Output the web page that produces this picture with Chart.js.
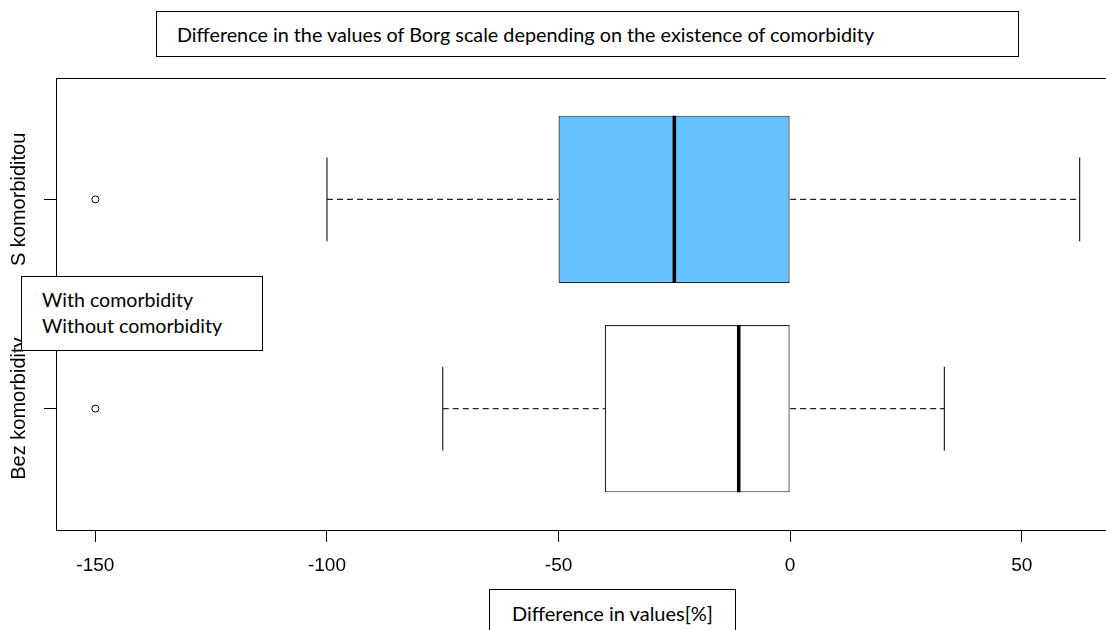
<!DOCTYPE html>
<html>
<head>
<meta charset="utf-8">
<script src="https://cdn.jsdelivr.net/npm/chart.js@4.4.1/dist/chart.umd.min.js"></script>
<style>
html,body{margin:0;padding:0;background:#fff;overflow:hidden;width:1106px;height:630px;}
#wrap{position:absolute;left:0;top:0;width:1124px;height:630px;}
.box{position:absolute;background:#fff;border:1px solid #000;font-family:Lato,"Open Sans",sans-serif;color:#000;box-sizing:border-box;white-space:nowrap;z-index:2;}
#title{left:156px;top:11px;width:863px;height:46px;font-size:19.8px;line-height:44px;padding-left:20px;}
#legend{left:21px;top:276px;width:242px;height:75px;font-size:19.6px;line-height:26px;padding:10px 0 0 20px;}
#xtitle{left:489px;top:589px;width:247px;height:60px;font-size:20px;line-height:24px;padding-top:11px;text-align:center;}
</style>
</head>
<body>
<div id="wrap"><canvas id="c"></canvas></div>
<div class="box" id="title">Difference in the values of Borg scale depending on the existence of comorbidity</div>
<div class="box" id="legend">With comorbidity<br>Without comorbidity</div>
<div class="box" id="xtitle">Difference in values[%]</div>
<script>
// ---- data ----
const categories = ['S komorbiditou', 'Bez komorbidity'];
const whiskerLow = [-100, -75];
const q1 = [-50, -40];
const median = [-25, -11.1];
const q3 = [0, 0];
const whiskerHigh = [62.5, 33.3];
const outliers = [[-150], [-150]];
const xTicks = [-150, -100, -50, 0, 50];

// ---- styling ----
const boxFill = ['#66C1FF', '#FFFFFF'];
const BOX_HALF = 0.4, CAP_HALF = 0.2;
const X_FONT = 19, Y_FONT = 20, TICK_LEN = 12, Y_PAD = 15;
const LABEL_FONT = '"Liberation Sans", Arial, sans-serif';

const yOf = i => categories.length - i;
const GAP = () => ({x: null, y: null});

const boxData = categories.map((c, i) => ({x: [q1[i], q3[i]], y: yOf(i)}));
const medianData = categories.flatMap((c, i) => [
  {x: median[i], y: yOf(i) - BOX_HALF}, {x: median[i], y: yOf(i) + BOX_HALF}, GAP()]);
const whiskerData = categories.flatMap((c, i) => [
  {x: whiskerLow[i], y: yOf(i)}, {x: q1[i], y: yOf(i)}, GAP(),
  {x: q3[i], y: yOf(i)}, {x: whiskerHigh[i], y: yOf(i)}, GAP()]);
const capData = categories.flatMap((c, i) => [
  {x: whiskerLow[i], y: yOf(i) - CAP_HALF}, {x: whiskerLow[i], y: yOf(i) + CAP_HALF}, GAP(),
  {x: whiskerHigh[i], y: yOf(i) - CAP_HALF}, {x: whiskerHigh[i], y: yOf(i) + CAP_HALF}, GAP()]);
const outlierData = categories.flatMap((c, i) => outliers[i].map(v => ({x: v, y: yOf(i)})));

const framePlugin = {
  id: 'frame',
  beforeDraw(chart) {
    const ys = chart.scales.y;
    const items = ys.getLabelItems();
    const cx = ys.right - TICK_LEN - Y_PAD - Y_FONT / 2;
    items.forEach(it => {
      it.options.textAlign = 'center';
      it.options.textBaseline = 'middle';
      it.options.translation[0] = cx;
    });
  },
  afterDraw(chart) {
    const {ctx, chartArea: a} = chart;
    ctx.save();
    ctx.strokeStyle = '#000';
    ctx.lineWidth = 1;
    ctx.strokeRect(Math.round(a.left) + 0.5, Math.round(a.top) + 0.5,
                   Math.round(a.width), Math.round(a.height));
    ctx.restore();
  }
};

new Chart(document.getElementById('c'), {
  type: 'bar',
  data: {
    datasets: [
      {
        type: 'bar', label: 'box', indexAxis: 'y', data: boxData,
        backgroundColor: boxFill, borderColor: '#222', borderWidth: 1.2,
        borderSkipped: false, barPercentage: 1, categoryPercentage: 2 * BOX_HALF,
        order: 5
      },
      {
        type: 'line', label: 'whiskers', data: whiskerData,
        borderColor: '#222', borderWidth: 1.2, borderDash: [6, 4],
        pointRadius: 0, fill: false, spanGaps: false, tension: 0, order: 4
      },
      {
        type: 'line', label: 'caps', data: capData,
        borderColor: '#222', borderWidth: 1.2,
        pointRadius: 0, fill: false, spanGaps: false, tension: 0, order: 3
      },
      {
        type: 'line', label: 'median', data: medianData,
        borderColor: '#000', borderWidth: 3.5, borderCapStyle: 'butt',
        pointRadius: 0, fill: false, spanGaps: false, tension: 0, order: 1
      },
      {
        type: 'scatter', label: 'outliers', data: outlierData,
        pointRadius: 3.5, pointBorderColor: '#000', pointBackgroundColor: 'rgba(0,0,0,0)',
        pointBorderWidth: 1, showLine: false, order: 0
      }
    ]
  },
  options: {
    responsive: true,
    maintainAspectRatio: false,
    animation: false,
    events: [],
    layout: {padding: {top: 78, right: 1, bottom: 0, left: 0}},
    plugins: {legend: {display: false}, tooltip: {enabled: false}, title: {display: false}},
    scales: {
      x: {
        type: 'linear', min: -158.5, max: 71, offset: false,
        afterBuildTicks: s => { s.ticks = xTicks.map(v => ({value: v})); },
        afterFit: s => { s.height = 100; },
        grid: {offset: false, drawOnChartArea: false, drawTicks: true, tickLength: TICK_LEN, color: '#000', lineWidth: 1},
        border: {display: false},
        ticks: {font: {family: LABEL_FONT, size: X_FONT}, color: '#000', padding: 12,
                maxRotation: 0, autoSkip: false, callback: v => String(v)}
      },
      y: {
        type: 'linear', min: 0.42, max: 2.58, offset: false, beginAtZero: false,
        afterBuildTicks: s => { s.ticks = categories.map((c, i) => ({value: yOf(i)})); },
        afterFit: s => { s.width = 56; },
        grid: {offset: false, drawOnChartArea: false, drawTicks: true, tickLength: TICK_LEN, color: '#000', lineWidth: 1},
        border: {display: false},
        ticks: {font: {family: LABEL_FONT, size: Y_FONT}, color: '#000', padding: Y_PAD,
                minRotation: 90, maxRotation: 90, autoSkip: false,
                callback: v => categories[categories.length - Math.round(v)]}
      }
    }
  },
  plugins: [framePlugin]
});
</script>
</body>
</html>
